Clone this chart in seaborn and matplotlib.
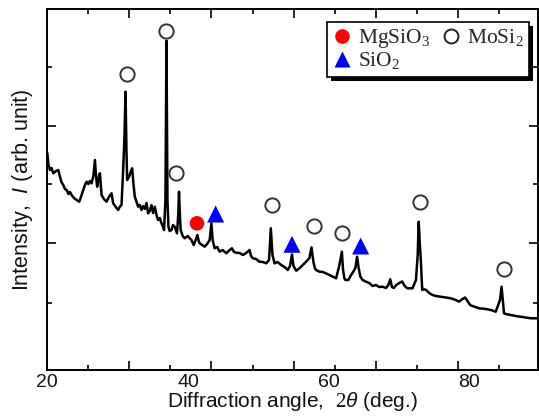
import matplotlib
matplotlib.use("Agg")
import matplotlib.pyplot as plt
import seaborn as sns
import pandas as pd
from matplotlib.lines import Line2D
from matplotlib.patches import Rectangle

# ---- data ----
two_theta = [20.00, 20.17, 20.38, 20.60, 20.85, 21.23, 21.56, 21.80, 22.01, 22.27, 22.51, 22.75,
             23.01, 23.22, 23.46, 23.79, 24.17, 24.54, 24.78, 25.11, 25.35, 25.59, 25.84, 26.06,
             26.30, 26.55, 26.77, 26.95, 27.09, 27.29, 27.48, 27.60, 27.72, 28.04, 28.43, 28.75,
             29.13, 29.36, 29.74, 30.07, 30.31, 30.55, 30.78, 30.95, 31.12, 31.25, 31.35, 31.63,
             31.84, 32.06, 32.26, 32.44, 32.91, 33.15, 33.39, 33.62, 33.86, 34.10, 34.33, 34.57,
             34.81, 35.04, 35.28, 35.52, 35.74, 35.99, 36.23, 36.41, 36.60, 36.79, 36.94, 37.08,
             37.22, 37.40, 37.65, 37.87, 38.11, 38.44, 38.61, 38.72, 38.85, 38.96, 39.25, 39.53,
             39.96, 40.48, 40.81, 41.09, 41.33, 41.52, 41.66, 42.01, 42.37, 42.72, 43.08, 43.32,
             43.50, 43.79, 44.14, 44.50, 44.92, 45.45, 45.77, 46.24, 46.55, 46.87, 47.33, 47.80,
             48.26, 48.75, 48.96, 49.22, 49.67, 50.17, 50.64, 51.12, 51.52, 51.77, 52.01, 52.30,
             52.72, 53.25, 53.72, 54.18, 54.50, 54.78, 54.99, 55.38, 55.84, 56.31, 56.79, 57.26,
             57.55, 57.83, 58.04, 58.21, 58.68, 59.15, 59.60, 60.10, 60.57, 61.05, 61.52, 61.87,
             62.04, 62.23, 62.37, 62.79, 63.18, 63.50, 63.79, 64.03, 64.26, 64.50, 64.82, 65.30,
             65.77, 66.24, 66.72, 67.19, 67.66, 68.14, 68.47, 68.75, 68.99, 69.25, 69.60, 70.03,
             70.45, 70.81, 71.16, 71.45, 71.91, 72.40, 72.65, 72.79, 72.96, 73.08, 73.19, 73.29,
             73.43, 73.86, 74.28, 74.75, 75.23, 75.94, 76.65, 77.36, 78.07, 78.54, 79.01, 79.39,
             79.81, 80.10, 80.43, 81.37, 82.33, 83.04, 83.74, 84.35, 84.57, 84.74, 84.92, 85.16,
             85.87, 86.58, 87.29, 88.00, 88.75, 89.74]
intensity = [217, 205, 200, 202, 196.7, 199, 200, 193.3, 188, 185, 181, 180,
             176, 178, 175, 172, 170, 168.3, 173, 180, 185, 188.3, 186, 189,
             186.7, 194, 210, 192, 183.3, 192, 196.7, 185, 175, 171, 168.3, 173,
             176.7, 166.7, 163, 160, 163.3, 165, 200, 230, 278.3, 220, 190, 193.3,
             198, 201.7, 185, 173.3, 163.3, 165, 160, 164, 161, 167, 156.7, 159,
             165, 157, 163.3, 155, 150, 152, 146.7, 144, 140, 170, 329.3, 170,
             143.3, 139, 140, 145, 143.3, 136.7, 155, 178.3, 155, 140, 134, 131.7,
             134, 130, 125, 130, 135, 129, 126.7, 125, 123.3, 126, 130, 146.7,
             130, 121.7, 123, 118.3, 120, 116.7, 119, 121.7, 118, 117.3, 117, 115,
             117, 120, 114, 111.7, 111, 108.3, 108, 106.7, 110, 141.7, 115, 106.7,
             108, 105, 103, 100, 104, 115.5, 104, 99.3, 101.7, 105, 108.3, 112,
             122.7, 108, 101.7, 100, 98.3, 98, 96.7, 95, 93.3, 91.7, 105, 118.3,
             100, 91.7, 90, 90, 95, 98.3, 102, 113.3, 102, 93.3, 90, 88.3,
             87, 84, 85, 83, 83.3, 82, 85, 90.7, 83, 82, 85, 87,
             88.5, 84, 81.7, 81.7, 81.7, 90, 115, 148.3, 125, 112, 95, 80,
             81, 80, 77, 75, 74, 73.3, 72.5, 71.7, 70, 68.3, 71, 72.5,
             68, 65, 64, 61.7, 61, 60, 58.3, 70, 83.3, 70, 56.7, 56,
             55, 54, 53.3, 52.5, 51.7, 51.7]

mosi2_x = [31.35, 36.94, 38.35, 51.94, 57.87, 61.90, 72.91, 84.95]
mosi2_y = [296, 339.3, 196.7, 165, 144, 136.7, 168, 100.8]
mgsio3_x = [41.28]
mgsio3_y = [146.7]
sio2_x = [43.93, 54.78, 64.54]
sio2_y = [156, 125.7, 124]

x_tick_labels = ["20", "40", "60", "80"]
x_label_pos = [20, 40, 60, 80]
x_major_ticks = [31.6, 43.3, 55.0, 66.7, 78.4]
x_minor_ticks = [25.85, 37.5, 49.2, 60.9, 72.55, 84.2]
y_major_ticks = [127, 244]
y_minor_ticks = [67, 186, 303]

# ---- style ----
sns.set_theme(style="ticks")
plt.rcParams["font.family"] = ["Liberation Sans", "DejaVu Sans"]
plt.rcParams["mathtext.fontset"] = "custom"
plt.rcParams["mathtext.rm"] = "Liberation Serif"
plt.rcParams["mathtext.it"] = "Liberation Sans:italic"

fig = plt.figure(figsize=(5.39, 4.16), dpi=100)
ax = fig.add_axes([47.3 / 539, 46 / 416, (538 - 47.3) / 539, 361 / 416])

curve = pd.DataFrame({"two_theta": two_theta, "intensity": intensity})
sns.lineplot(data=curve, x="two_theta", y="intensity", sort=False, estimator=None,
             color="black", linewidth=1.8, ax=ax)

sns.scatterplot(x=mosi2_x, y=mosi2_y, marker="o", s=105, facecolor="white",
                edgecolor="#333333", linewidth=1.4, ax=ax, zorder=5)
sns.scatterplot(x=mgsio3_x, y=mgsio3_y, marker="o", s=110, color="#ff0000",
                edgecolor="none", ax=ax, zorder=5)
sns.scatterplot(x=sio2_x, y=sio2_y, marker="^", s=150, color="#0000ff",
                edgecolor="none", ax=ax, zorder=5)

ax.set_xlim(20, 89.75)
ax.set_ylim(0, 361)

for sp in ax.spines.values():
    sp.set_linewidth(1.4)
    sp.set_color("black")

ax.set_xticks(x_major_ticks)
ax.set_xticks(x_minor_ticks, minor=True)
ax.set_yticks(y_major_ticks)
ax.set_yticks(y_minor_ticks, minor=True)
ax.tick_params(which="both", direction="in", top=True, right=True,
               labelbottom=False, labelleft=False, width=1.2, color="black")
ax.tick_params(which="major", length=6.5)
ax.tick_params(which="minor", length=3.5)

sec = ax.secondary_xaxis("bottom")
sec.set_xticks(x_label_pos, labels=x_tick_labels)
sec.tick_params(length=0, labelsize=14, pad=3, labelcolor="#111111")
sec.spines["bottom"].set_visible(False)
sec.set_xlabel(r"Diffraction angle,  $\mathit{2\theta}$ (deg.)", fontsize=15,
               labelpad=-1, color="#111111")

ax.set_xlabel("")
ax.set_ylabel(r"Intensity,  $I$ (arb. unit)", fontsize=15.5, labelpad=9, color="#111111")

handles = [
    Line2D([], [], marker="o", linestyle="none", markersize=10.5,
           markerfacecolor="#ff0000", markeredgecolor="none"),
    Line2D([], [], marker="^", linestyle="none", markersize=11.5,
           markerfacecolor="#0000ff", markeredgecolor="none"),
    Line2D([], [], marker="o", linestyle="none", markersize=10,
           markerfacecolor="white", markeredgecolor="#222222", markeredgewidth=1.4),
]
labels = ["MgSiO$_3$", "SiO$_2$", "MoSi$_2$"]
leg = ax.legend(handles, labels, ncol=2, loc="upper right",
                bbox_to_anchor=(0.982, 0.964), borderaxespad=0,
                prop={"family": "Liberation Serif", "size": 15.5},
                frameon=True, fancybox=False, shadow=False, framealpha=1.0,
                facecolor="white",
                handlelength=0.9, handletextpad=0.3, columnspacing=0.5,
                labelspacing=0.0, borderpad=0.25)
leg.get_frame().set_edgecolor("black")
leg.get_frame().set_linewidth(1.2)
leg.set_zorder(10)

# drop shadow behind the legend box
fig.canvas.draw()
bb = leg.get_frame().get_window_extent()
shadow = Rectangle((bb.x0 + 4, bb.y0 - 4), bb.width, bb.height, transform=None,
                   facecolor="black", edgecolor="none", zorder=9)
ax.add_artist(shadow)

fig.savefig("out.png", dpi=100)
